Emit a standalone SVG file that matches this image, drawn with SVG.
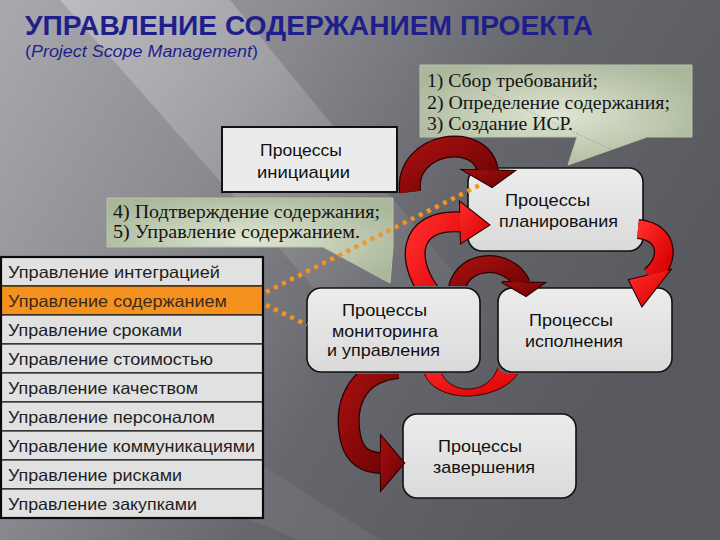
<svg xmlns="http://www.w3.org/2000/svg" width="720" height="540" viewBox="0 0 720 540">
<style>
.box{fill:url(#boxg);stroke:#111;stroke-width:1.6}
.bt{font-family:"Liberation Sans",Arial,sans-serif;font-size:17px;fill:#111}
.st{font-family:"Liberation Serif","Times New Roman",serif;font-size:18px;fill:#141414}
.rt{font-family:"Liberation Sans",Arial,sans-serif;font-size:16.5px;fill:#1e1e1e}
.row{fill:#e1e1e1;stroke:#1a1a1a;stroke-width:1.2}
.ol{fill:none;stroke:#2a0000}
.hol{fill:#2a0000;stroke:#2a0000;stroke-width:2.2;stroke-linejoin:miter}
.bd{fill:none}
.dot{fill:none;stroke:#f7941d;stroke-width:4.5;stroke-dasharray:4 5}
</style>
<defs>
<linearGradient id="bg" x1="0" y1="0" x2="1" y2="0.45">
<stop offset="0" stop-color="#a9a9ae"/>
<stop offset="0.35" stop-color="#8a8a90"/>
<stop offset="0.65" stop-color="#66666d"/>
<stop offset="1" stop-color="#58585f"/>
</linearGradient>
<linearGradient id="beam" x1="0" y1="0" x2="1" y2="1">
<stop offset="0" stop-color="#ffffff" stop-opacity="0.28"/>
<stop offset="1" stop-color="#ffffff" stop-opacity="0"/>
</linearGradient>
<radialGradient id="cg" cx="0.5" cy="0.5" r="0.6">
<stop offset="0" stop-color="#dfe6d2"/>
<stop offset="1" stop-color="#aab79b"/>
</radialGradient>
<linearGradient id="boxg" x1="0" y1="0" x2="0" y2="1">
<stop offset="0" stop-color="#ececec"/>
<stop offset="1" stop-color="#dadada"/>
</linearGradient>
<linearGradient id="dr" x1="0" y1="0" x2="1" y2="1">
<stop offset="0" stop-color="#a50f0f"/>
<stop offset="1" stop-color="#6a0202"/>
</linearGradient>
<linearGradient id="br" x1="0" y1="0" x2="1" y2="1">
<stop offset="0" stop-color="#ff2b2b"/>
<stop offset="1" stop-color="#d80000"/>
</linearGradient>
<clipPath id="cm">
<path clip-rule="evenodd" d="M0,0H720V540H0Z M318,286H469A13,13 0 0 1 482,299V361A13,13 0 0 1 469,374H318A13,13 0 0 1 305,361V299A13,13 0 0 1 318,286Z"/>
</clipPath>
<clipPath id="cm2">
<path clip-rule="evenodd" d="M0,0H720V540H0Z M318,286H469A13,13 0 0 1 482,299V361A13,13 0 0 1 469,374H318A13,13 0 0 1 305,361V299A13,13 0 0 1 318,286Z M509,286H661A13,13 0 0 1 674,299V361A13,13 0 0 1 661,374H509A13,13 0 0 1 496,361V299A13,13 0 0 1 509,286Z"/>
</clipPath>
</defs>

<rect width="720" height="540" fill="url(#bg)"/>
<polygon points="60,0 230,0 500,330 360,340" fill="url(#beam)"/>
<polygon points="0,300 0,420 300,540 380,540" fill="#ffffff" opacity="0.06"/>

<g id="title">
<text x="25" y="35" font-family="Liberation Sans,Arial,sans-serif" font-weight="bold" font-size="27" fill="#1f1f8c" textLength="568" lengthAdjust="spacingAndGlyphs">УПРАВЛЕНИЕ СОДЕРЖАНИЕМ ПРОЕКТА</text>
<text x="25" y="57" font-family="Liberation Sans,Arial,sans-serif" font-size="16.5" fill="#1f1f8c" textLength="233" lengthAdjust="spacingAndGlyphs">(<tspan font-style="italic">Project Scope Management</tspan>)</text>
</g>

<g id="callout-planning">
<path d="M420,65H692V137H647L568,165L577,137H420Z" fill="url(#cg)" stroke="#b9c4aa" stroke-width="1"/>
<line x1="462" y1="80" x2="612" y2="150" stroke="#5d6650" stroke-width="1" stroke-dasharray="1 2" opacity="0.55"/>
<text class="st" x="427" y="87" textLength="171" lengthAdjust="spacingAndGlyphs">1) Сбор требований;</text>
<text class="st" x="427" y="109" textLength="243" lengthAdjust="spacingAndGlyphs">2) Определение содержания;</text>
<text class="st" x="427" y="130" textLength="146" lengthAdjust="spacingAndGlyphs">3) Создание ИСР.</text>
</g>

<g id="callout-monitoring">
<path d="M107,198H393V247L390,283L323,247H107Z" fill="url(#cg)" stroke="#b9c4aa" stroke-width="1"/>
<text class="st" x="113" y="218" textLength="267" lengthAdjust="spacingAndGlyphs">4) Подтверждение содержания;</text>
<text class="st" x="113" y="238" textLength="247" lengthAdjust="spacingAndGlyphs">5) Управление содержанием.</text>
</g>

<g id="node-initiation">
<rect x="222" y="127" width="175" height="65" fill="#ebebeb" stroke="#111" stroke-width="2"/>
<text class="bt" x="260" y="156" textLength="82" lengthAdjust="spacingAndGlyphs">Процессы</text>
<text class="bt" x="257" y="178" textLength="93" lengthAdjust="spacingAndGlyphs">инициации</text>
</g>

<g id="node-planning">
<rect class="box" x="468" y="168" width="175" height="83" rx="14"/>
<text class="bt" x="505" y="206" textLength="85" lengthAdjust="spacingAndGlyphs">Процессы</text>
<text class="bt" x="499" y="227" textLength="119" lengthAdjust="spacingAndGlyphs">планирования</text>
</g>

<g id="node-execution">
<rect class="box" x="498" y="288" width="174" height="84" rx="14"/>
<text class="bt" x="529" y="326" textLength="84" lengthAdjust="spacingAndGlyphs">Процессы</text>
<text class="bt" x="525" y="347" textLength="98" lengthAdjust="spacingAndGlyphs">исполнения</text>
</g>

<g id="node-closing">
<rect class="box" x="403" y="414" width="173" height="84" rx="14"/>
<text class="bt" x="438" y="452" textLength="84" lengthAdjust="spacingAndGlyphs">Процессы</text>
<text class="bt" x="433" y="473" textLength="102" lengthAdjust="spacingAndGlyphs">завершения</text>
</g>

<g id="node-monitoring">
<rect class="box" x="307" y="288" width="173" height="84" rx="14"/>
<text class="bt" x="342" y="316" textLength="85" lengthAdjust="spacingAndGlyphs">Процессы</text>
<text class="bt" x="332" y="337" textLength="106" lengthAdjust="spacingAndGlyphs">мониторинга</text>
<text class="bt" x="327" y="356" textLength="113" lengthAdjust="spacingAndGlyphs">и управления</text>
</g>

<g id="knowledge-areas">
<g id="row-1"><rect class="row" x="1" y="257" width="262" height="29"/><text class="rt" x="8" y="278" textLength="212" lengthAdjust="spacingAndGlyphs">Управление интеграцией</text></g>
<g id="row-2"><rect class="row" x="1" y="286" width="262" height="29" style="fill:#f5921f"/><text class="rt" x="8" y="307" textLength="219" lengthAdjust="spacingAndGlyphs" style="fill:#3b2a1a">Управление содержанием</text></g>
<g id="row-3"><rect class="row" x="1" y="315" width="262" height="29"/><text class="rt" x="8" y="336" textLength="174" lengthAdjust="spacingAndGlyphs">Управление сроками</text></g>
<g id="row-4"><rect class="row" x="1" y="344" width="262" height="29"/><text class="rt" x="8" y="365" textLength="205" lengthAdjust="spacingAndGlyphs">Управление стоимостью</text></g>
<g id="row-5"><rect class="row" x="1" y="373" width="262" height="29"/><text class="rt" x="8" y="394" textLength="190" lengthAdjust="spacingAndGlyphs">Управление качеством</text></g>
<g id="row-6"><rect class="row" x="1" y="402" width="262" height="29"/><text class="rt" x="8" y="423" textLength="207" lengthAdjust="spacingAndGlyphs">Управление персоналом</text></g>
<g id="row-7"><rect class="row" x="1" y="431" width="262" height="29"/><text class="rt" x="8" y="452" textLength="247" lengthAdjust="spacingAndGlyphs">Управление коммуникациями</text></g>
<g id="row-8"><rect class="row" x="1" y="460" width="262" height="29"/><text class="rt" x="8" y="481" textLength="174" lengthAdjust="spacingAndGlyphs">Управление рисками</text></g>
<g id="row-9"><rect class="row" x="1" y="489" width="262" height="29"/><text class="rt" x="8" y="510" textLength="189" lengthAdjust="spacingAndGlyphs">Управление закупками</text></g>
<rect x="1" y="257" width="262" height="261" fill="none" stroke="#0a0a0a" stroke-width="2.2"/>
</g>

<g id="connectors">
<g id="arrow-initiation-planning">
<path class="ol" stroke-width="22" d="M410,192C404,142 482,130 488,172"/>
<polygon class="hol" points="463,170 514,171 492,187"/>
<path class="bd" stroke="url(#dr)" stroke-width="19.5" d="M410,192C404,142 482,130 488,172"/>
<polygon fill="url(#dr)" points="463,170 514,171 492,187"/>
</g>
<g id="arrow-monitoring-planning" clip-path="url(#cm)">
<path class="ol" stroke-width="21" d="M436,300C404,264 406,218 462,222"/>
<polygon class="hol" points="460,202 461,243 489,225"/>
<path class="bd" stroke="url(#br)" stroke-width="18.5" d="M436,300C404,264 406,218 462,222"/>
<polygon fill="url(#br)" points="460,202 461,243 489,225"/>
</g>
<g id="arrow-planning-execution">
<path class="ol" stroke-width="20" d="M638,229C670,232 670,262 650,277"/>
<polygon class="hol" points="629,280 670,270 642,306"/>
<path class="bd" stroke="url(#br)" stroke-width="17.5" d="M638,229C670,232 670,262 650,277"/>
<polygon fill="url(#br)" points="629,280 670,270 642,306"/>
</g>
<g id="arrow-monitoring-execution" clip-path="url(#cm)">
<path class="ol" stroke-width="18" d="M456,296C456,258 508,254 522,284"/>
<polygon class="hol" points="502,282 544,283 526,296"/>
<path class="bd" stroke="url(#dr)" stroke-width="15.5" d="M456,296C456,258 508,254 522,284"/>
<polygon fill="url(#dr)" points="502,282 544,283 526,296"/>
</g>
<g id="arrow-execution-monitoring" clip-path="url(#cm2)">
<path d="M423,360C420,385 445,397 470,396C500,394 520,380 523,360L500,360C497,377 486,388 470,389C452,390 439,378 438,360Z" fill="url(#br)" stroke="#3a0000" stroke-width="1"/>
</g>
<g id="arrow-monitoring-closing" clip-path="url(#cm)">
<path class="ol" stroke-width="22" d="M398,368C352,372 344,410 351,440C355,456 366,463 382,463"/>
<polygon class="hol" points="381,436 381,490 404,463"/>
<path class="bd" stroke="url(#dr)" stroke-width="19.5" d="M398,368C352,372 344,410 351,440C355,456 366,463 382,463"/>
<polygon fill="url(#dr)" points="381,436 381,490 404,463"/>
</g>
<g id="links-scope">
<line class="dot" x1="266" y1="292" x2="480" y2="185"/>
<line class="dot" x1="266" y1="305" x2="307" y2="325"/>
</g>
</g>
</svg>
